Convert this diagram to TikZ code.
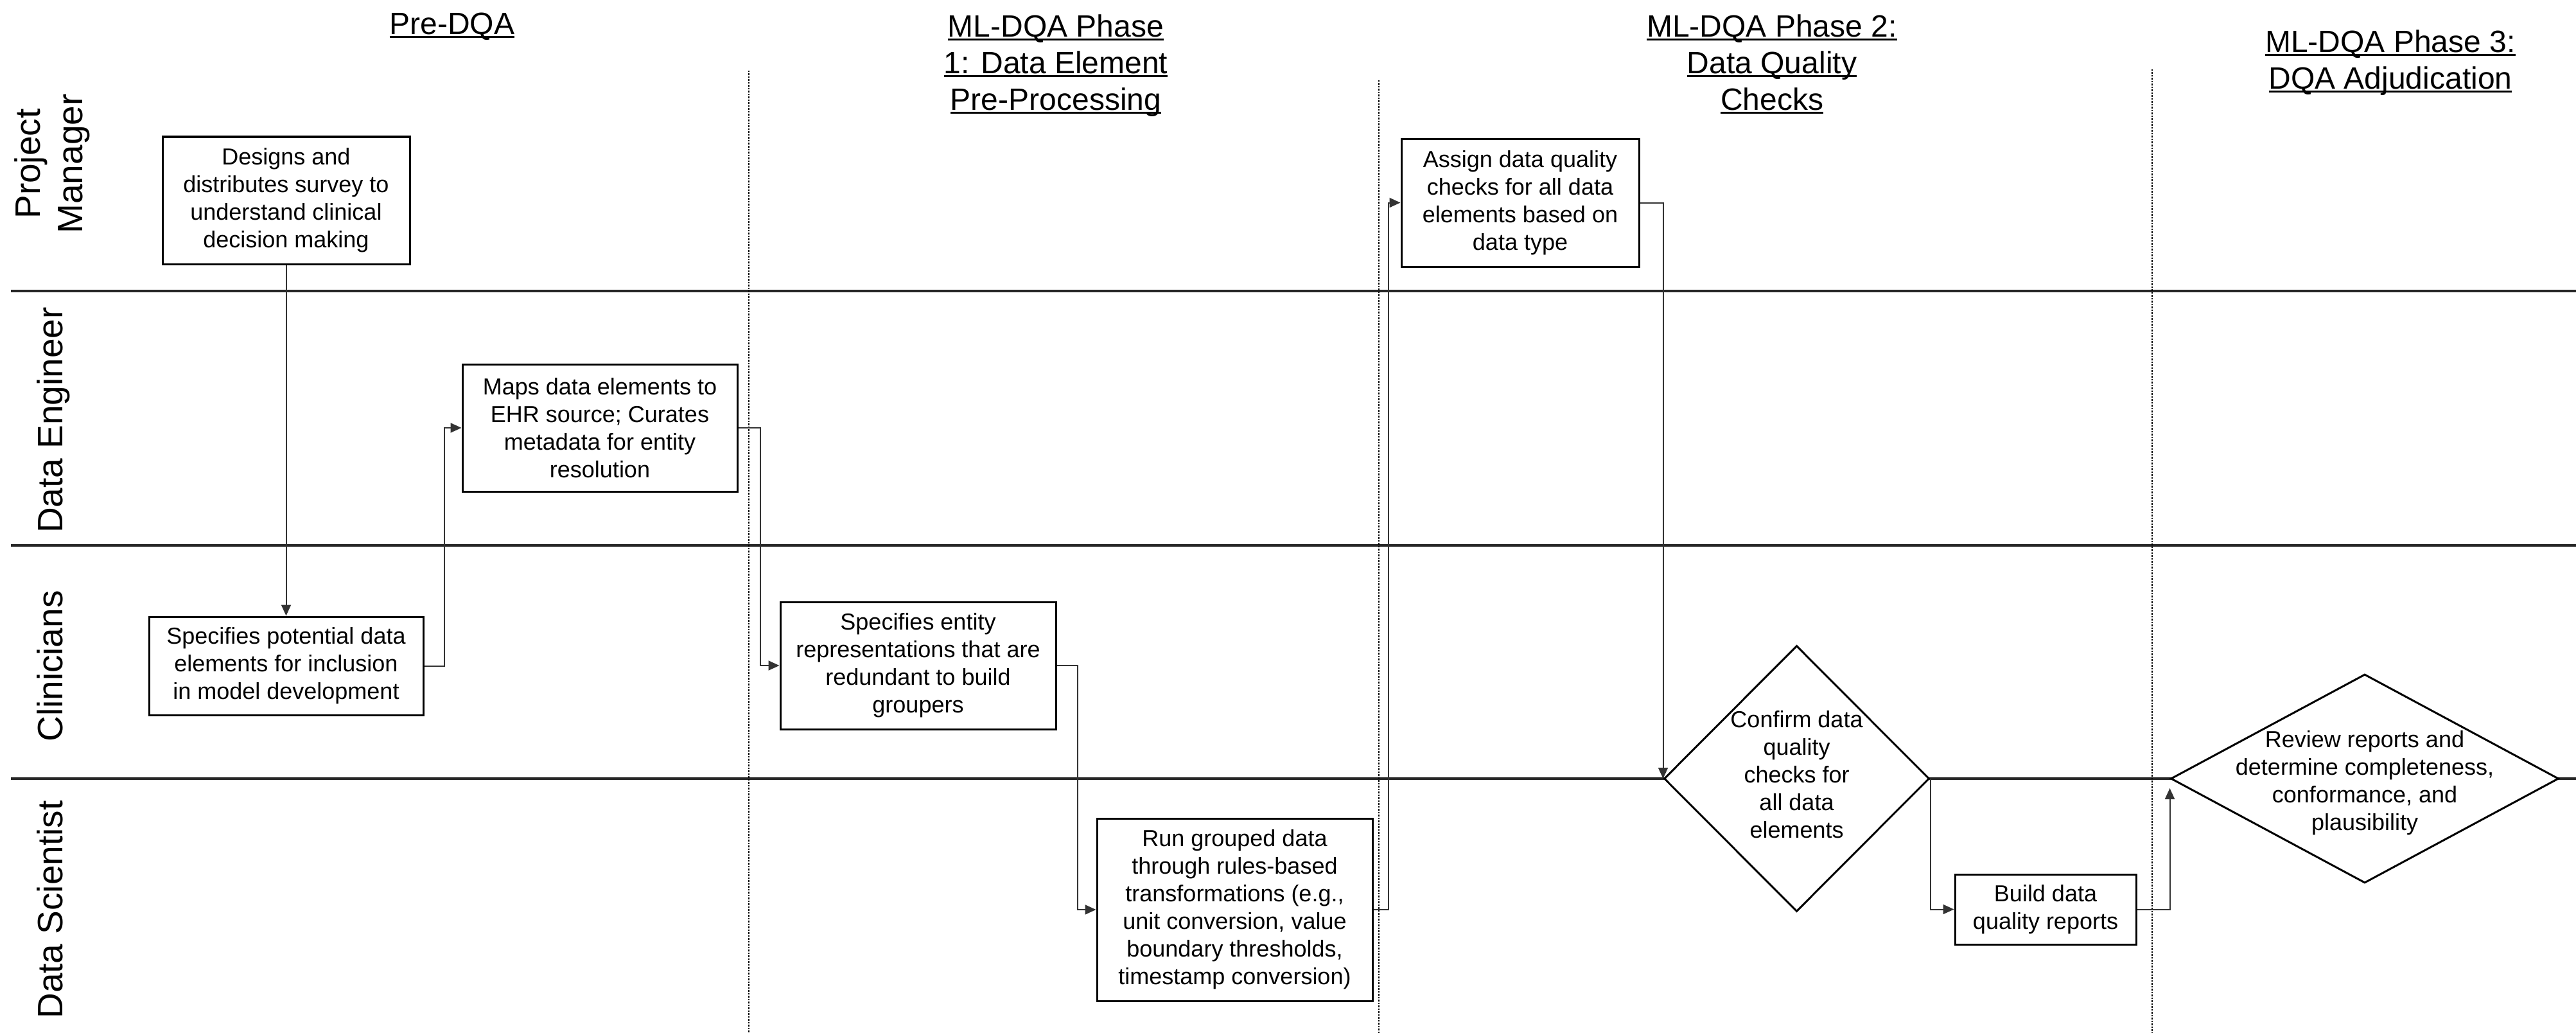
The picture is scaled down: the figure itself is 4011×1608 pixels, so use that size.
\documentclass[tikz,border=0pt]{standalone}
\usepackage{fontspec}
\setmainfont{Liberation Sans}
\usetikzlibrary{arrows.meta,shapes.geometric}

% text of zero size, so a shape keeps exactly the size it is given
\newcommand\zerobox[2][0pt]{\smash{\makebox[0pt]{\raisebox{#1}{\begin{tabular}{@{}c@{}}#2\end{tabular}}}}}
% underline at a fixed depth below the baseline
\newsavebox\undlbox
\newcommand\undl[1]{\sbox\undlbox{#1}\rlap{\rule[-5pt]{\wd\undlbox}{3pt}}\usebox\undlbox}

\tikzset{
  lane/.style={line width=4pt, black!85},
  phaseline/.style={line width=2.5pt, dash pattern=on 2.5pt off 2pt, black},
  task/.style={draw, line width=3pt, fill=white, align=center, inner sep=0pt,
    font=\fontsize{36}{43}\selectfont},
  decision/.style={diamond, draw, line width=3pt, fill=white, inner sep=0pt,
    font=\fontsize{36}{43}\selectfont},
  conn/.style={line width=2pt, black!80, -{Triangle[length=17pt,width=15pt]}},
  role/.style={rotate=90, font=\fontsize{55}{66}\selectfont, align=center, inner sep=0pt},
  phasetitle/.style={font=\fontsize{48}{57}\selectfont, align=center, inner sep=0pt, anchor=north},
}

\begin{document}
\begin{tikzpicture}[x=1pt, y=-1pt]
  \useasboundingbox (0,0) rectangle (4011,1608);

  % swimlane separators
  \draw[lane] (17,453) -- (4011,453);
  \draw[lane] (17,849) -- (4011,849);
  \draw[lane] (17,1212) -- (4011,1212);

  % phase separators
  \draw[phaseline] (1166,110) -- (1166,1608);
  \draw[phaseline] (2147,125) -- (2147,1608);
  \draw[phaseline] (3351,108) -- (3351,1608);

  % phase titles
  \node[phasetitle] (tpre) at (704,20) {\undl{Pre-DQA}};
  \node[phasetitle] (tph1) at (1644,23) {\undl{ML-DQA Phase}\\\undl{1: Data Element}\\\undl{Pre-Processing}};
  \node[phasetitle] (tph2) at (2759,23) {\undl{ML-DQA Phase 2:}\\\undl{Data Quality}\\\undl{Checks}};
  \node[phasetitle] (tph3) at (3722,47) {\undl{ML-DQA Phase 3:}\\\undl{DQA Adjudication}};

  % roles
  \node[role] (rpm) at (81,255) {Project\\Manager};
  \node[role, anchor=base] (rde) at (97,654) {Data Engineer};
  \node[role, anchor=base] (rcl) at (97,1037) {Clinicians};
  \node[role, anchor=base] (rds) at (97,1416) {Data Scientist};

  % activities
  \node[task, minimum width=385pt, minimum height=198pt] (pm1) at (445.5,312)
    {Designs and\\distributes survey to\\understand clinical\\decision making};
  \node[task, minimum width=428pt, minimum height=198pt] (de1) at (934,666)
    {Maps data elements to\\EHR source; Curates\\metadata for entity\\resolution};
  \node[task, minimum width=427pt, minimum height=153pt] (cl1) at (445.5,1036.5)
    {Specifies potential data\\elements for inclusion\\in model development};
  \node[task, minimum width=429pt, minimum height=198pt] (cl2) at (1429.5,1036)
    {Specifies entity\\representations that are\\redundant to build\\groupers};
  \node[task, minimum width=429pt, minimum height=284pt] (ds1) at (1922.5,1416)
    {Run grouped data\\through rules-based\\transformations (e.g.,\\unit conversion, value\\boundary thresholds,\\timestamp conversion)};
  \node[task, minimum width=370pt, minimum height=199pt] (pm2) at (2367,315.5)
    {Assign data quality\\checks for all data\\elements based on\\data type};
  \node[task, minimum width=282pt, minimum height=109pt] (ds2) at (3185,1415.5)
    {Build data\\quality reports};
  \node[decision, minimum width=413pt, minimum height=414pt] (dq1) at (2797.5,1212)
    {\zerobox[-4pt]{Confirm data\\quality\\checks for\\all data\\elements}};
  \node[decision, minimum width=604pt, minimum height=325pt] (dq2) at (3682,1212)
    {\zerobox[-14pt]{Review reports and\\determine completeness,\\conformance, and\\plausibility}};

  % flow
  \draw[conn] (pm1.south) -- (cl1.north);
  \draw[conn] (cl1.east) -- ++(31,0) |- (de1.west);
  \draw[conn] (de1.east) -- ++(34,0) |- (cl2.west);
  \draw[conn] (cl2.east) -- ++(32,0) |- (ds1.west);
  \draw[conn] (ds1.east) -- ++(23,0) |- (pm2.west);
  \draw[conn] (pm2.east) -| (dq1.west);
  \draw[conn] (dq1.east) |- (ds2.west);
  \draw[conn, shorten >=15pt] (ds2.east) -| (dq2.west);
\end{tikzpicture}
\end{document}
